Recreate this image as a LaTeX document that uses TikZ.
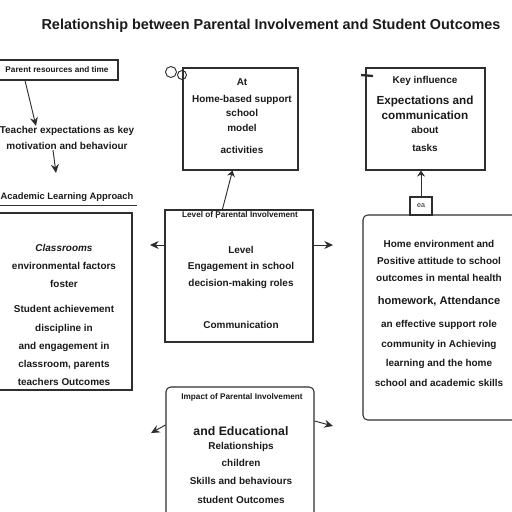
\documentclass[tikz,border=0pt]{standalone}
\usepackage{fontspec}
\setmainfont{Liberation Sans}
\usetikzlibrary{positioning,arrows.meta}
\definecolor{ink}{HTML}{1A1A1A}
\definecolor{edge}{HTML}{2E2E2E}

\begin{document}
\begin{tikzpicture}[x=0.03cm, y=-0.03cm,
    every node/.style={text=ink},
    panel/.style={draw=edge, line width=0.9pt, inner sep=0pt},
    body/.style={align=center, anchor=north, inner sep=0pt,
                 font=\fontsize{8.5}{14}\selectfont\bfseries},
    small/.style={font=\fontsize{7}{9}\selectfont\bfseries, inner sep=0pt},
    rel/.style={-{Stealth[length=2.6mm, width=2.4mm]}, draw=edge, line width=0.8pt},
  ]
  \useasboundingbox (0,0) rectangle (512,512);
  \clip (0,0) rectangle (512,512);

  % title
  \node[font=\fontsize{12.3}{15}\selectfont\bfseries] (title) at (271,26)
        {Relationship between Parental Involvement and Student Outcomes};

  % top left: resource tag and note
  \node[panel, minimum width=3.84cm, minimum height=0.6cm] (res) at (54,70) {};
  \node[small] (restxt) at (57,70) {Parent resources and time};
  \node[body] (note) at (67,126) {Teacher expectations as key\\ motivation and behaviour};
  \coordinate (noteend) at (56,173);
  \draw[rel] ([xshift=-0.87cm]res.south) -- ([xshift=-0.93cm]note.north);
  \draw[rel] ([xshift=-0.42cm]note.south) -- (noteend);

  % top middle box
  \node[panel, minimum width=3.45cm, minimum height=3.06cm] (home) at (240.5,119) {};
  \node[body] (hometxt) at (242,78) {At\\[1pt] Home-based support\\[-2pt] school\\[-1pt] model\\[4pt] activities};
  \draw[edge, line width=0.8pt] (171,72) circle (5.5) (182,75) circle (4.5);

  % top right box
  \node[panel, minimum width=3.57cm, minimum height=3.06cm] (peer) at (425.5,119) {};
  \node[body] (peertxt) at (425,76) {Key influence\\[4pt]
        {\fontsize{10}{15}\selectfont Expectations and}\\[-1pt]
        {\fontsize{10}{15}\selectfont communication}\\[-2pt] about\\[1pt] tasks};
  \draw[edge, line width=2pt] (361,75) -- (373,76);

  % small tag under the right box
  \node[panel, minimum width=0.66cm, minimum height=0.54cm, font=\fontsize{6}{7}\selectfont] (tag) at (421,206) {ea};
  \draw[edge, line width=0.8pt, {Stealth[length=1.8mm, width=2.4mm]}-] (peer.south -| tag) -- (tag);

  % left heading and box
  \node[body, anchor=center, font=\fontsize{8}{10}\selectfont\bfseries] (approach) at (67,197) {Academic Learning Approach};
  \draw[edge, line width=0.6pt] (0,205) -- (137,205);
  \node[panel, minimum width=4.26cm, minimum height=5.31cm] (learn) at (61,301.5) {};
  \node[body, font=\fontsize{8.5}{15.5}\selectfont\bfseries] (learntxt) at (64,244)
        {\textit{Classrooms}\\ environmental factors\\ foster\\[6pt]
        Student achievement\\ discipline in\\ and engagement in\\
        classroom, parents\\ teachers Outcomes};

  % middle box
  \node[panel, minimum width=4.44cm, minimum height=3.96cm] (level) at (239,276) {};
  \node[small, anchor=north] (leveltop) at (240,211) {Level of Parental Involvement};
  \draw[edge, line width=0.6pt] (216,210) -- (216,218);
  \node[body] (leveltxt) at (241,246) {Level\\ Engagement in school\\ decision-making roles\\[22pt] Communication};
  \draw[edge, line width=0.8pt, {Stealth[length=1.8mm, width=2.4mm]}-]
        ([xshift=-0.24cm]home.south) -- (leveltop.north -| 222,0);
  \coordinate (levelL) at (150,245);
  \coordinate (levelR) at (333,245);
  \draw[rel] (level.west |- levelL) -- (levelL);
  \draw[rel] (level.east |- levelR) -- (levelR);

  % right box
  \node[panel, rounded corners=4pt, minimum width=5.31cm, minimum height=6.15cm] (support) at (451.5,317.5) {};
  \node[body, font=\fontsize{8.5}{16}\selectfont\bfseries] (supporttxt) at (439,240)
        {Home environment and\\[-1.5pt] Positive attitude to school\\[-1.5pt]
        outcomes in mental health\\[4pt]
        {\fontsize{9.5}{15}\selectfont homework, Attendance}\\[3pt] an effective support role\\[1pt]
        community in Achieving\\[1pt] learning and the home\\[1pt] school and academic skills};

  % bottom box
  \node[panel, rounded corners=4pt, minimum width=4.44cm, minimum height=4.59cm] (impact) at (240,463.5) {};
  \node[small, anchor=north] (impacttop) at (242,393) {Impact of Parental Involvement};
  \node[body, font=\fontsize{8.5}{15}\selectfont\bfseries] (impacttxt) at (241,426)
        {{\fontsize{10.5}{15}\selectfont and Educational}\\[-3pt]
        Relationships\\ children\\ Skills and behaviours\\[1pt] student Outcomes};
  \coordinate (impactL) at (151,433);
  \coordinate (impactR) at (333,426);
  \draw[rel] (impact.west |- 0,425) -- (impactL);
  \draw[rel] (impact.east |- 0,421) -- (impactR);
\end{tikzpicture}
\end{document}
